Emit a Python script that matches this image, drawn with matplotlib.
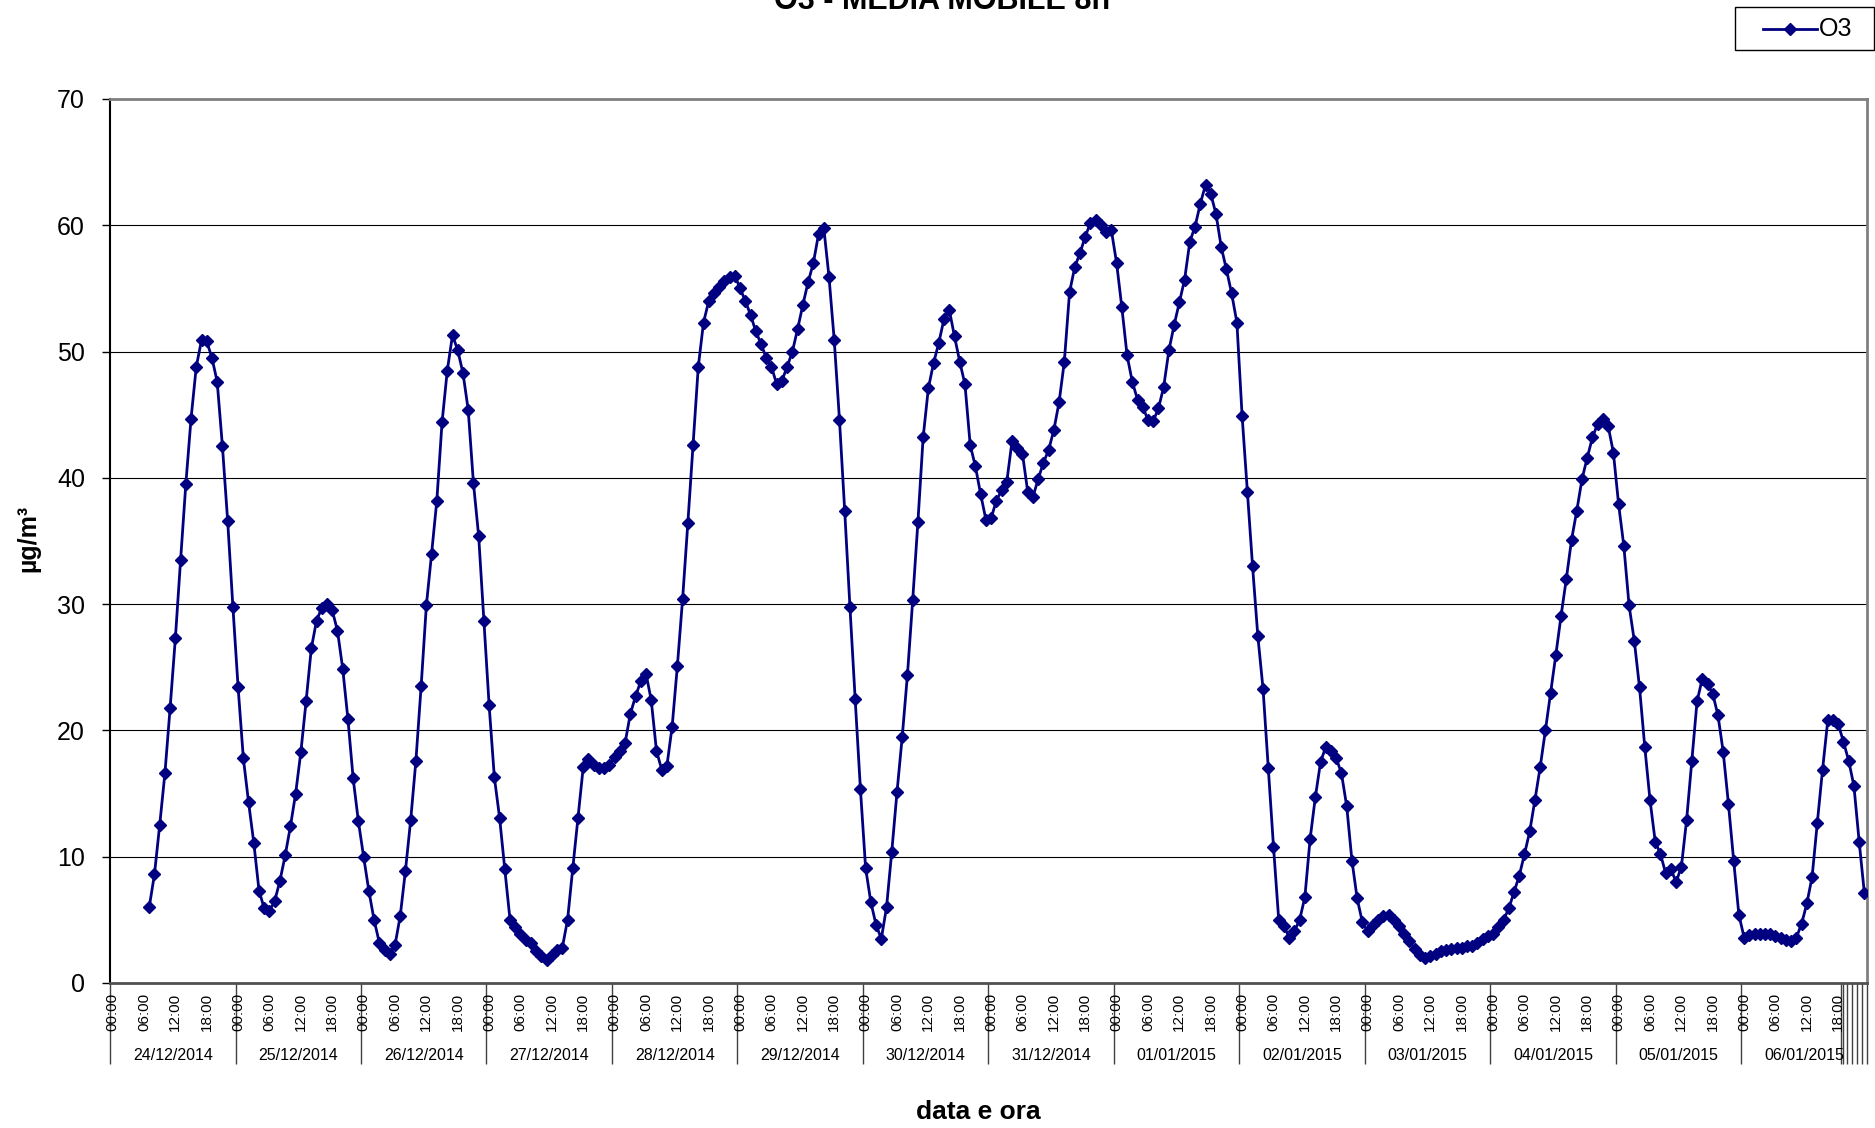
import numpy as np
import matplotlib.pyplot as plt
import matplotlib.transforms as mtransforms
from matplotlib.patches import Rectangle
from matplotlib.lines import Line2D

plt.rcParams['font.family'] = ['Liberation Sans', 'DejaVu Sans']

# O3 8h moving average, hourly values per day (00:00 .. 23:00)
d_24_12 = [np.nan] * 7 + [6.0, 8.6, 12.5, 16.6, 21.8, 27.3, 33.5, 39.5, 44.7, 48.8, 50.9, 50.8,
                          49.5, 47.6, 42.5, 36.6, 29.8]
d_25_12 = [23.4, 17.8, 14.3, 11.1, 7.3, 5.9, 5.7, 6.5, 8.1, 10.1, 12.4, 15.0,
           18.3, 22.3, 26.5, 28.7, 29.7, 30.0, 29.5, 27.9, 24.9, 20.9, 16.2, 12.8]
d_26_12 = [10.0, 7.3, 5.0, 3.2, 2.6, 2.3, 3.0, 5.3, 8.9, 12.9, 17.6, 23.5,
           29.9, 34.0, 38.2, 44.4, 48.5, 51.3, 50.1, 48.3, 45.4, 39.6, 35.4, 28.7]
d_27_12 = [22.0, 16.3, 13.1, 9.0, 5.0, 4.4, 3.9, 3.4, 3.2, 2.5, 2.1, 1.8,
           2.2, 2.6, 2.8, 5.0, 9.1, 13.1, 17.1, 17.7, 17.3, 17.0, 17.0, 17.3]
d_28_12 = [17.9, 18.4, 19.0, 21.3, 22.7, 23.9, 24.5, 22.4, 18.4, 16.9, 17.2, 20.3,
           25.1, 30.4, 36.4, 42.6, 48.8, 52.3, 54.0, 54.6, 55.1, 55.6, 55.9, 56.0]
d_29_12 = [55.0, 54.0, 52.9, 51.6, 50.6, 49.5, 48.8, 47.4, 47.7, 48.8, 50.0, 51.8,
           53.7, 55.5, 57.0, 59.3, 59.8, 55.9, 50.9, 44.6, 37.4, 29.8, 22.5, 15.4]
d_30_12 = [9.1, 6.4, 4.6, 3.5, 6.0, 10.4, 15.1, 19.5, 24.4, 30.3, 36.5, 43.2,
           47.1, 49.1, 50.7, 52.6, 53.3, 51.2, 49.2, 47.4, 42.6, 40.9, 38.7, 36.7]
d_31_12 = [36.8, 38.2, 39.0, 39.7, 42.9, 42.4, 41.9, 38.9, 38.5, 39.9, 41.2, 42.2,
           43.8, 46.0, 49.2, 54.7, 56.7, 57.8, 59.1, 60.2, 60.4, 60.0, 59.5, 59.6]
d_01_01 = [57.0, 53.5, 49.7, 47.6, 46.2, 45.6, 44.6, 44.5, 45.5, 47.2, 50.1, 52.1,
           53.9, 55.7, 58.7, 59.9, 61.7, 63.2, 62.5, 60.9, 58.3, 56.5, 54.6, 52.3]
d_02_01 = [44.9, 38.9, 33.0, 27.5, 23.3, 17.0, 10.8, 5.0, 4.5, 3.6, 4.1, 5.0,
           6.8, 11.4, 14.7, 17.5, 18.7, 18.4, 17.8, 16.6, 14.0, 9.7, 6.7, 4.8]
d_03_01 = [4.1, 4.6, 5.0, 5.3, 5.4, 5.0, 4.5, 3.9, 3.3, 2.7, 2.2, 2.0,
           2.1, 2.3, 2.5, 2.6, 2.7, 2.8, 2.8, 2.9, 2.9, 3.2, 3.5, 3.7]
d_04_01 = [3.9, 4.4, 5.0, 5.9, 7.2, 8.5, 10.2, 12.0, 14.5, 17.1, 20.0, 23.0,
           26.0, 29.1, 32.0, 35.1, 37.4, 39.9, 41.6, 43.2, 44.3, 44.7, 44.1, 42.0]
d_05_01 = [37.9, 34.6, 29.9, 27.1, 23.4, 18.7, 14.5, 11.2, 10.2, 8.7, 9.0, 8.0,
           9.2, 12.9, 17.6, 22.3, 24.1, 23.7, 22.9, 21.2, 18.3, 14.2, 9.7, 5.4]
d_06_01 = [3.6, 3.8, 3.9, 3.9, 3.9, 3.9, 3.7, 3.6, 3.4, 3.3, 3.6, 4.7,
           6.3, 8.4, 12.7, 16.9, 20.8, 20.8, 20.5, 19.1, 17.6, 15.6, 11.2, 7.1]

dates = ['24/12/2014', '25/12/2014', '26/12/2014', '27/12/2014', '28/12/2014',
         '29/12/2014', '30/12/2014', '31/12/2014', '01/01/2015', '02/01/2015',
         '03/01/2015', '04/01/2015', '05/01/2015', '06/01/2015']
hour_labels = ['00:00', '06:00', '12:00', '18:00']

o3 = np.array(d_24_12 + d_25_12 + d_26_12 + d_27_12 + d_28_12 + d_29_12 + d_30_12
              + d_31_12 + d_01_01 + d_02_01 + d_03_01 + d_04_01 + d_05_01 + d_06_01)
n = len(o3)
x = np.arange(n) + 0.5   # categories centred between tick marks

W, H = 1875, 1128
fig = plt.figure(figsize=(W / 100, H / 100), dpi=100)
ax = fig.add_axes([110/W, 1 - 983/H, 1757/W, 884/H])

navy = '#000080'
ax.plot(x, o3, color=navy, lw=2, marker='D', ms=6.2, zorder=3)

ax.set_xlim(0, n)
ax.set_ylim(0, 70)
ax.set_yticks(range(0, 71, 10))
ax.tick_params(axis='y', labelsize=18, length=6, width=1, pad=12, direction='out')
ax.yaxis.grid(True, color='black', lw=0.8)
ax.set_axisbelow(True)

# day separators (plus the crowded marks Excel draws at the end)
day_edges = list(range(0, n + 1, 24))
tail_marks = [331.0, 331.5, 332.2, 333.1, 334.0, 335.0]
ax.set_xticks(day_edges + tail_marks)
ax.set_xticklabels([])
ax.tick_params(axis='x', which='major', length=58, width=1, color='#404040', direction='out')

minor_pos = [d * 24 + h + 0.5 for d in range(len(dates)) for h in (0, 6, 12, 18)]
ax.set_xticks(minor_pos, minor=True)
ax.set_xticklabels(hour_labels * len(dates), minor=True, rotation=90, fontsize=11)
ax.tick_params(axis='x', which='minor', length=0, pad=7)

trans = mtransforms.blended_transform_factory(ax.transData, ax.transAxes)
for i, d in enumerate(dates):
    ax.text(i * 24 + 12, -72/884, d, transform=trans, ha='center', va='center', fontsize=11.5)

ax.spines['left'].set_color('black')
ax.spines['left'].set_linewidth(1.5)
ax.spines['bottom'].set_color('#505050')
ax.spines['bottom'].set_linewidth(2)
for s in ('top', 'right'):
    ax.spines[s].set_color('#808080')
    ax.spines[s].set_linewidth(2)

fig.text(942/W, 1 - 9/H, 'O3 - MEDIA MOBILE 8h', fontsize=22, fontweight='bold',
         ha='center', va='baseline')
fig.text(978/W, 1 - 1112/H, 'data e ora', fontsize=19, fontweight='bold',
         ha='center', va='center')
fig.text(28/W, 1 - 538/H, 'µg/m³', fontsize=18, fontweight='bold', rotation=90,
         ha='center', va='center')

# legend box drawn by hand to match the Excel layout
fig.patches.append(Rectangle((1735/W, 1 - 50/H), 139/W, 43/H, transform=fig.transFigure,
                             facecolor='white', edgecolor='black', lw=1))
fig.lines.append(Line2D([1763/W, 1817/W], [1 - 29/H, 1 - 29/H], transform=fig.transFigure,
                        color=navy, lw=2))
fig.lines.append(Line2D([1790/W], [1 - 29/H], transform=fig.transFigure, color=navy,
                        marker='D', ms=6.2, lw=0))
fig.text(1819/W, 1 - 29/H, 'O3', fontsize=18, ha='left', va='center')

fig.savefig('out.png', dpi=100, facecolor='white')
